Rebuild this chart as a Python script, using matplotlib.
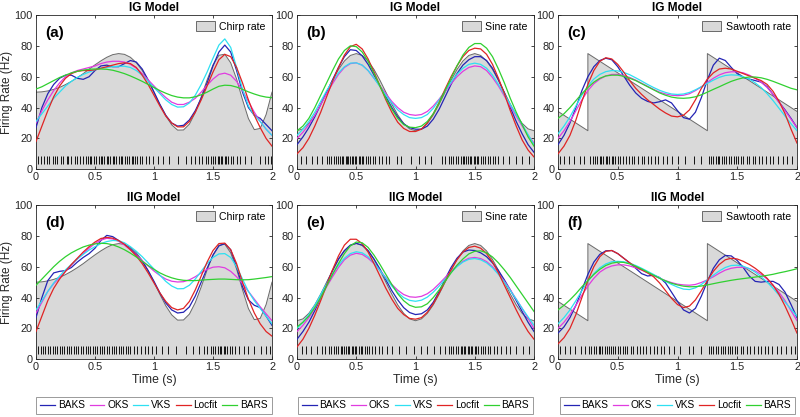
import numpy as np
import matplotlib
matplotlib.use('Agg')
import matplotlib.pyplot as plt
from matplotlib.patches import Patch
from matplotlib.lines import Line2D

plt.rcParams['font.family'] = ['Liberation Sans', 'DejaVu Sans']

# sample times of the estimated curves (s)
t = np.round(np.arange(41) * 0.05, 2)

# ---------- true rates ----------
chirp_rate = [50, 50.2, 50.8, 51.8, 53.1, 54.9, 57.0, 59.4, 62.0, 64.9, 67.7, 70.3, 72.6, 74.3, 75.0,
              74.5, 72.6, 69.1, 64.1, 57.6, 50, 42.1, 34.7, 28.8, 25.4, 25.5, 29.3, 36.8, 46.9, 57.9,
              67.7, 73.9, 74.6, 69.0, 58.5, 45.1, 32.9, 25.7, 26.5, 35.5, 50]
sine_rate = [25, 26.2, 29.8, 35.3, 42.3, 50, 57.7, 64.7, 70.2, 73.8, 75, 73.8, 70.2, 64.7, 57.7, 50,
             42.3, 35.3, 29.8, 26.2, 25, 26.2, 29.8, 35.3, 42.3, 50, 57.7, 64.7, 70.2, 73.8, 75, 73.8,
             70.2, 64.7, 57.7, 50, 42.3, 35.3, 29.8, 26.2, 25]
saw_t = [0, 0.25, 0.25, 1.25, 1.25, 2.0]
saw_rate = [37.5, 25, 75, 25, 75, 37.5]

# ---------- (a) IG chirp ----------
a_baks = [27, 40, 49, 55, 59, 61, 61, 59, 58.3, 60, 64, 67, 67.5, 66.5, 66.5, 68.5, 70.5, 69.5, 65, 58, 50,
          42, 35, 30, 28, 28.5, 32, 38, 46, 56, 67, 76, 80.5, 76, 64, 50, 40, 35, 33, 29, 25]
a_oks = [30, 38, 45, 51, 56, 60, 62.5, 64, 65, 66, 67, 68.5, 69.5, 70, 70, 69.5, 68, 65.5, 62, 58, 54,
         50, 46.5, 43.5, 42, 42, 43.5, 46, 50, 54.5, 58.5, 61.5, 62.3, 61, 57, 51, 44, 37, 31, 26, 22]
a_vks = [31, 36, 41, 46, 50, 54, 57, 59.5, 61.5, 63, 64.5, 65.5, 66, 66.5, 66.8, 66.8, 66, 64, 61, 57, 53,
         49, 45, 42, 40.3, 40.5, 43, 48, 55, 63, 72, 80.5, 84.5, 79, 66, 52, 41, 35, 31, 26, 22]
a_locfit = [18, 28, 38, 47, 54, 59, 62, 63.5, 64, 64, 64.5, 65.5, 66.5, 67.5, 68.5, 69, 68.5, 66, 61, 55, 48,
            41, 34.5, 30, 27.5, 27.5, 31, 37, 45, 54, 63, 71, 74.5, 73, 66, 56, 45, 35, 27, 20, 15]
a_bars = [52, 53.5, 55.5, 57.5, 59.5, 61, 62.5, 63.5, 64.3, 64.8, 65, 65, 64.8, 64.2, 63.2, 62, 60.5, 58.8, 57,
          55, 53, 51, 49.3, 47.8, 46.8, 46.3, 46.3, 47, 48.3, 50, 52, 53.8, 54.5, 54.3, 53.3, 51.8, 50.2,
          48.8, 47.6, 46.8, 46.4]
a_spikes = [0.02, 0.04, 0.07, 0.09, 0.11, 0.14, 0.16, 0.18, 0.21, 0.23, 0.26, 0.27, 0.30, 0.33, 0.35, 0.37,
            0.40, 0.42, 0.44, 0.46, 0.47, 0.49, 0.51, 0.53, 0.55, 0.56, 0.58, 0.60, 0.61, 0.63, 0.65, 0.66,
            0.68, 0.70, 0.72, 0.73, 0.75, 0.77, 0.79, 0.81, 0.82, 0.84, 0.86, 0.88, 0.90, 0.93, 0.96, 0.99,
            1.03, 1.08, 1.13, 1.20, 1.27, 1.31, 1.35, 1.38, 1.41, 1.44, 1.46, 1.48, 1.50, 1.52, 1.54, 1.55,
            1.57, 1.58, 1.60, 1.61, 1.63, 1.65, 1.67, 1.70, 1.73, 1.77, 1.82, 1.90, 1.94, 1.97, 1.99]

# ---------- (b) IG sine ----------
b_baks = [16, 21, 27, 34, 42, 50, 58, 66, 73, 77.5, 77, 73.5, 68, 61, 54, 47, 40, 34, 29.5, 27, 26, 26, 28,
          32.5, 39, 47, 55, 62, 67.5, 71, 73, 73, 70.5, 65.5, 58, 49.5, 40, 31, 23, 16, 11]
b_oks = [20, 24, 29, 35, 42, 49, 55.5, 61.5, 66, 68.5, 69, 67.5, 64, 59, 54, 49, 44, 40, 37, 35.5, 35, 35.5,
         37.5, 41, 45.5, 50.5, 55.5, 60, 63.5, 66, 67, 66.5, 64, 59.5, 54, 47.5, 41, 34.5, 28, 22, 17]
b_vks = [22, 26, 31, 37, 44, 51, 57, 62.5, 66.5, 68.8, 69, 67.5, 64, 59, 53.5, 48, 43, 38.5, 35.5, 33.5, 33,
         33.5, 35.5, 39.5, 45, 51, 56.5, 61.5, 65.5, 68, 68.8, 68, 65.5, 61, 55, 48.5, 42, 35.5, 29, 22.5, 16]
b_locfit = [10, 14, 20, 28, 37, 47, 57, 66, 74, 79.5, 81, 78, 71.5, 63, 54, 45, 37, 30.5, 26.5, 24.5, 24.5,
            26, 30, 36, 43.5, 52, 60, 67, 73, 77, 78.5, 78, 74.5, 68, 59, 49, 38, 28, 19, 12.5, 8]
b_bars = [25, 28, 33, 40, 48, 56, 64, 71.5, 77, 80, 79.5, 76, 70, 62, 54, 46, 39, 33, 29, 27.3, 27, 28, 31,
          36, 43, 51, 59, 67, 74, 79, 81.5, 81.5, 78.5, 73, 65, 56, 46, 37, 29, 21, 15]
b_spikes = [0.03, 0.08, 0.13, 0.17, 0.21, 0.25, 0.27, 0.29, 0.31, 0.33, 0.35, 0.36, 0.38, 0.39, 0.41, 0.42,
            0.43, 0.45, 0.46, 0.47, 0.49, 0.50, 0.52, 0.53, 0.55, 0.56, 0.58, 0.60, 0.62, 0.64, 0.66, 0.69,
            0.72, 0.75, 0.78, 0.84, 0.88, 0.96, 1.03, 1.08, 1.13, 1.22, 1.25, 1.28, 1.30, 1.32, 1.34, 1.36,
            1.38, 1.40, 1.41, 1.43, 1.44, 1.46, 1.47, 1.49, 1.50, 1.52, 1.53, 1.55, 1.57, 1.59, 1.61, 1.63,
            1.65, 1.67, 1.70, 1.74, 1.79, 1.85, 1.90, 1.96]

# ---------- (c) IG sawtooth ----------
c_baks = [16, 22, 30, 40, 51, 60, 66.5, 70.5, 72, 71, 66.5, 60.5, 54.5, 49.5, 46, 44, 43, 43.8, 45, 43, 38,
          33.5, 32.5, 37, 46.5, 58, 67.5, 72, 70.5, 66, 62, 59.5, 58.5, 57.5, 56.5, 53.5, 48.5, 43.5, 38.5,
          33, 27]
c_oks = [20, 25, 31, 38, 45, 51, 55.5, 58.5, 60.5, 61.5, 61.5, 60.8, 59.5, 57.8, 55.8, 53.8, 51.8, 50, 48.8,
         48, 47.7, 48, 49, 51, 53.5, 56.3, 59, 61.2, 62.6, 63.2, 63.2, 62.5, 61, 59, 56.5, 53, 48.5, 43.5,
         38, 32.5, 27]
c_vks = [23, 28, 34, 41, 48, 54, 58.5, 61.5, 63.3, 64, 63.8, 62.8, 61.3, 59.3, 57.2, 55, 53, 51.2, 49.8,
         48.8, 48.5, 48.8, 49.8, 51.5, 53.5, 55.7, 57.8, 59.6, 60.8, 61.2, 61, 60, 58.5, 56, 53, 49, 44.5,
         39.5, 34.5, 29.5, 25]
c_locfit = [10, 15, 22, 32, 44, 55, 64, 70, 72.3, 71.5, 68, 63, 57.5, 52.5, 48.5, 45, 42, 39, 36.5, 34.5, 34,
            35, 38.5, 45, 52.5, 58.5, 62.5, 65, 65.5, 65, 63.5, 62, 60.5, 59, 57.5, 55, 50.5, 44, 36, 26, 17]
c_bars = [33, 36, 40, 44.5, 49, 53, 56.5, 59, 60.5, 61, 61, 60.3, 59, 57.5, 55.5, 53.5, 51.5, 49.5, 48,
          46.8, 46.2, 46, 46.3, 47, 48.3, 50, 51.8, 53.5, 55.3, 57, 58.3, 59.3, 59.8, 59.8, 59.3, 58.3, 57,
          55.5, 54, 52.5, 51.5]
c_spikes = [0.02, 0.05, 0.09, 0.13, 0.18, 0.22, 0.27, 0.29, 0.31, 0.33, 0.35, 0.36, 0.38, 0.40, 0.41, 0.43,
            0.45, 0.46, 0.48, 0.50, 0.52, 0.54, 0.57, 0.59, 0.62, 0.64, 0.67, 0.70, 0.72, 0.75, 0.78, 0.81,
            0.84, 0.88, 0.91, 0.95, 1.00, 1.06, 1.14, 1.20, 1.26, 1.28, 1.30, 1.32, 1.34, 1.35, 1.37, 1.39,
            1.41, 1.43, 1.45, 1.47, 1.49, 1.51, 1.53, 1.55, 1.58, 1.60, 1.63, 1.65, 1.68, 1.71, 1.74, 1.77,
            1.80, 1.84, 1.88, 1.92, 1.96]

# ---------- (d) IIG chirp ----------
d_baks = [27, 40, 51, 56, 57, 57.5, 59.5, 63, 66, 68.5, 72, 77, 80.3, 79.5, 77, 74.5, 71.5, 68, 63.5, 57.5,
          50.5, 43, 36.5, 32, 30, 30.5, 34, 41, 50, 59, 67.5, 73.5, 75, 71, 60, 47, 38.5, 35, 33.5, 28, 22]
d_oks = [30, 37, 44, 49, 53, 57, 61, 65, 68.5, 72, 75, 77.3, 78.4, 78, 76.5, 74, 71, 67.5, 64, 60.5, 57.2,
         54.3, 52, 50.6, 50.1, 50.3, 51.5, 53.5, 56, 58.3, 59.7, 60, 59.3, 57, 53.5, 49, 44, 39, 34, 29.5, 25]
d_vks = [32, 38, 44, 49.5, 54, 58, 61.5, 65, 68, 70.8, 73, 75, 76.3, 77, 76.8, 75.5, 73, 70, 66.5, 62.5,
         58.5, 54.5, 50.5, 47.5, 45.7, 45.8, 48, 52, 57, 62, 66, 68.3, 68.5, 66, 60, 52, 44, 38, 33, 28, 23]
d_locfit = [18, 28, 38, 46, 52, 57, 61.5, 65.5, 69.5, 73, 76, 78.3, 79, 78.5, 77, 74.5, 71, 67, 62, 56,
            49.5, 43, 37.5, 33.5, 32, 33, 37.5, 45, 54, 63, 70.5, 75, 75.3, 71, 62, 50, 39, 30, 23, 18, 15]
d_bars = [48, 52, 56, 60, 63.5, 66.5, 69, 71, 72.8, 74, 74.8, 75.2, 75, 74.2, 72.8, 71, 68.8, 66.3, 63.5,
          60.8, 58.3, 56, 54.2, 52.8, 51.8, 51.2, 51, 51, 51.3, 51.6, 51.8, 52, 52, 51.8, 51.6, 51.5, 51.6,
          52, 52.5, 53, 53.6]
d_spikes = [0.02, 0.04, 0.06, 0.08, 0.10, 0.12, 0.14, 0.16, 0.18, 0.20, 0.22, 0.24, 0.26, 0.28, 0.30, 0.32,
            0.34, 0.36, 0.38, 0.40, 0.42, 0.44, 0.46, 0.48, 0.50, 0.52, 0.54, 0.56, 0.58, 0.60, 0.62, 0.64,
            0.66, 0.68, 0.70, 0.72, 0.74, 0.76, 0.78, 0.80, 0.83, 0.86, 0.89, 0.92, 0.95, 0.98, 1.02, 1.07,
            1.12, 1.19, 1.27, 1.33, 1.38, 1.42, 1.45, 1.48, 1.50, 1.52, 1.54, 1.56, 1.57, 1.59, 1.60, 1.62,
            1.64, 1.66, 1.69, 1.72, 1.76, 1.80, 1.85, 1.91, 1.95, 1.98]

# ---------- (e) IIG sine ----------
e_baks = [13, 18, 24, 31.5, 40, 49, 57.5, 65, 70.5, 74, 75.2, 74, 70.5, 65, 58.5, 51.5, 44.5, 38.5, 33.5,
          30.3, 29, 29.5, 32, 37, 44, 52, 59.5, 65.5, 69.5, 70.8, 70.5, 69, 66.5, 62.5, 57.5, 51.5, 45, 38,
          31, 24, 18]
e_oks = [18, 22, 27, 33, 40, 47, 53.5, 59.5, 64.5, 67.5, 68.7, 68, 65.5, 62, 57.5, 53, 48.5, 44.8, 42, 40.5,
         40.2, 40.8, 42.5, 45.3, 49, 53, 57, 60.5, 63.5, 65.5, 66, 65.3, 63.3, 60, 55.5, 50.5, 45, 39, 33,
         26.5, 20]
e_vks = [20, 24, 29, 35, 42, 49, 55.5, 61, 65.5, 68.5, 69.7, 69, 66.5, 62.5, 57.5, 52.5, 47.5, 43.3, 40,
         38.2, 37.6, 38.3, 40.3, 43.5, 47.5, 52, 56.3, 60, 63, 64.8, 65.3, 64.5, 62.5, 59.3, 55, 50, 44.5,
         39, 33, 27.5, 22]
e_locfit = [8, 13, 20, 28.5, 38, 48, 58, 67, 74, 77.8, 77.8, 75, 69.5, 62, 54, 46, 39, 33, 29, 26.5, 26, 27,
            30.5, 36, 43, 50.5, 58, 64.5, 69.5, 72.5, 73.3, 72, 68.5, 63, 56, 48, 40, 32, 24.5, 18, 13]
e_bars = [21, 24, 28, 33.5, 40, 47.5, 55, 62, 68.5, 73.5, 76, 75.5, 72.5, 67.5, 61.5, 55, 48.5, 42.5, 38,
          35, 33.7, 34, 36, 40, 45, 50.5, 56, 61, 65, 68.3, 70, 70.3, 69, 66.3, 62.5, 58, 53, 47.5, 42,
          36.5, 31]
e_spikes = [0.04, 0.08, 0.12, 0.17, 0.21, 0.24, 0.27, 0.29, 0.31, 0.33, 0.35, 0.37, 0.38, 0.40, 0.41, 0.43,
            0.44, 0.46, 0.47, 0.49, 0.50, 0.52, 0.54, 0.55, 0.57, 0.59, 0.61, 0.63, 0.66, 0.69, 0.72, 0.76,
            0.80, 0.86, 0.92, 0.99, 1.05, 1.10, 1.16, 1.21, 1.25, 1.28, 1.30, 1.32, 1.34, 1.36, 1.38, 1.39,
            1.41, 1.42, 1.44, 1.45, 1.47, 1.48, 1.50, 1.51, 1.53, 1.55, 1.57, 1.59, 1.61, 1.63, 1.66, 1.69,
            1.72, 1.76, 1.80, 1.85, 1.91, 1.96]

# ---------- (f) IIG sawtooth ----------
f_baks = [17, 21, 27, 35, 45, 55, 63, 68, 70.3, 70.5, 68.5, 65.5, 62.5, 59, 55.5, 54, 54.5, 53, 49.5, 43.5,
          37.5, 32, 30, 33, 41, 50.5, 59, 64.5, 67.3, 67, 64, 59.5, 54, 50.5, 50, 50.5, 50.5, 48.5, 43.5,
          35.5, 27]
f_oks = [20, 24, 29, 35, 41.5, 47.5, 52.5, 56.5, 59, 60.5, 61.2, 61.2, 60.5, 59.3, 57.8, 56, 54.3, 52.5, 51,
         49.7, 48.7, 48.2, 48, 48.5, 49.8, 51.5, 53.5, 55.8, 57.8, 59, 59.6, 59.6, 58.8, 57.3, 55, 52, 48,
         43.3, 38, 31.5, 25]
f_vks = [23, 27, 32, 38, 44.5, 50.5, 55.5, 59.3, 61.8, 63.2, 63.5, 63.2, 62.3, 60.8, 59, 57, 55, 52.8, 50.5,
         48.5, 46.8, 45.5, 45.2, 46.3, 48.5, 51.5, 54.5, 57.3, 59.5, 60.8, 61, 60.3, 58.8, 56.5, 53.5, 50,
         46, 41.5, 37, 32.5, 28]
f_locfit = [10, 14, 20, 29, 40, 51, 60, 66.5, 70, 70.5, 68.5, 65.5, 62.5, 60, 58, 56, 53.5, 49.5, 44.5, 39.5,
            35.5, 33.5, 34.5, 38.5, 44.5, 51, 57, 61.5, 64.5, 65.5, 65, 63.5, 61.5, 59, 56, 52.5, 48, 42,
            34.5, 26, 17]
f_bars = [32, 35, 38.5, 42.5, 47, 51, 55, 58.3, 60.8, 62.3, 63, 62.8, 61.8, 60.3, 58.5, 56.5, 54.5, 52.5,
          50.8, 49.3, 48.2, 47.4, 47, 47.1, 47.5, 48.2, 49, 49.8, 50.5, 51.2, 51.8, 52.3, 52.8, 53.3, 53.8,
          54.4, 55.1, 56, 56.8, 57.7, 58.7]
f_spikes = [0.02, 0.06, 0.10, 0.14, 0.19, 0.23, 0.26, 0.28, 0.30, 0.32, 0.34, 0.35, 0.37, 0.39, 0.41, 0.43,
            0.44, 0.46, 0.48, 0.50, 0.52, 0.54, 0.56, 0.58, 0.61, 0.63, 0.66, 0.69, 0.71, 0.74, 0.77, 0.80,
            0.83, 0.86, 0.89, 0.93, 0.97, 1.02, 1.10, 1.13, 1.20, 1.26, 1.28, 1.30, 1.32, 1.34, 1.36, 1.38,
            1.40, 1.42, 1.44, 1.46, 1.48, 1.50, 1.53, 1.55, 1.58, 1.61, 1.64, 1.67, 1.70, 1.73, 1.76, 1.79,
            1.83, 1.87, 1.91, 1.95, 1.98]

series_names = ['BAKS', 'OKS', 'VKS', 'Locfit', 'BARS']
series_colors = ['#2424b4', '#e03ce0', '#2ee0f2', '#e02424', '#30d030']

panels = [
    ('IG Model', '(a)', 'Chirp rate', t, chirp_rate, [a_baks, a_oks, a_vks, a_locfit, a_bars], a_spikes),
    ('IG Model', '(b)', 'Sine rate', t, sine_rate, [b_baks, b_oks, b_vks, b_locfit, b_bars], b_spikes),
    ('IG Model', '(c)', 'Sawtooth rate', saw_t, saw_rate, [c_baks, c_oks, c_vks, c_locfit, c_bars], c_spikes),
    ('IIG Model', '(d)', 'Chirp rate', t, chirp_rate, [d_baks, d_oks, d_vks, d_locfit, d_bars], d_spikes),
    ('IIG Model', '(e)', 'Sine rate', t, sine_rate, [e_baks, e_oks, e_vks, e_locfit, e_bars], e_spikes),
    ('IIG Model', '(f)', 'Sawtooth rate', saw_t, saw_rate, [f_baks, f_oks, f_vks, f_locfit, f_bars], f_spikes),
]

W, H = 800, 417
fig = plt.figure(figsize=(W / 100, H / 100), dpi=100)
lefts = [36, 297, 558]
widths = [236, 237, 239]
tops = [15, 205]
ax_h = 154.3
axcol = '#262626'


def rate_legend(ax, rlabel):
    return ax.legend([Patch(facecolor='#d9d9d9', edgecolor='#555555', linewidth=0.6)], [rlabel],
                     loc='upper right', bbox_to_anchor=(1.0, 1.0), frameon=False, fontsize=7.6,
                     handlelength=1.8, handleheight=1.1, handletextpad=0.4, borderaxespad=0.3,
                     borderpad=0.3)


for i, (title, lab, rlabel, rt, rv, ests, spikes) in enumerate(panels):
    r, c = divmod(i, 3)
    ax = fig.add_axes([lefts[c] / W, 1 - (tops[r] + ax_h) / H, widths[c] / W, ax_h / H])
    ax.fill_between(rt, rv, 0, facecolor='#d9d9d9', edgecolor='none', zorder=1)
    ax.plot(rt, rv, color='#6a6a6a', lw=0.7, zorder=2)
    ax.vlines(spikes, 3.5, 8.3, color='#111111', lw=0.7, zorder=3)
    for vals, col in zip(ests, series_colors):
        ax.plot(t, vals, color=col, lw=0.9, zorder=4)
    ax.set_xlim(0, 2)
    ax.set_ylim(0, 100)
    ax.set_xticks([0, 0.5, 1, 1.5, 2])
    ax.set_xticklabels(['0', '0.5', '1', '1.5', '2'])
    ax.set_yticks([0, 20, 40, 60, 80, 100])
    ax.tick_params(direction='in', length=2.5, width=0.6, labelsize=7.9, colors=axcol,
                   top=True, right=True, pad=2.2)
    for sp in ax.spines.values():
        sp.set_color(axcol)
        sp.set_linewidth(0.6)
    ax.set_title(title, fontsize=8.6, fontweight='bold', pad=3, color='black')
    ax.text(0.038, 0.886, lab, transform=ax.transAxes, fontsize=11, fontweight='bold',
            va='center', ha='left', color='black')
    if c == 0:
        ax.set_ylabel('Firing Rate (Hz)', fontsize=8.5, labelpad=1, color=axcol)
    if r == 1:
        ax.set_xlabel('Time (s)', fontsize=8.8, labelpad=1.5, color=axcol)
        handles = [Line2D([0], [0], color=col, lw=0.9) for col in series_colors]
        leg = ax.legend(handles, series_names, loc='upper center', bbox_to_anchor=(0.5, -0.242),
                        ncol=5, fontsize=7.3, frameon=True, fancybox=False, framealpha=1,
                        edgecolor='#9a9a9a', handlelength=1.45, handletextpad=0.3,
                        columnspacing=0.45, borderpad=0.38, borderaxespad=0)
        leg.get_frame().set_linewidth(0.7)
        ax.add_artist(leg)
    rate_legend(ax, rlabel)

fig.savefig('out.png', dpi=100)
